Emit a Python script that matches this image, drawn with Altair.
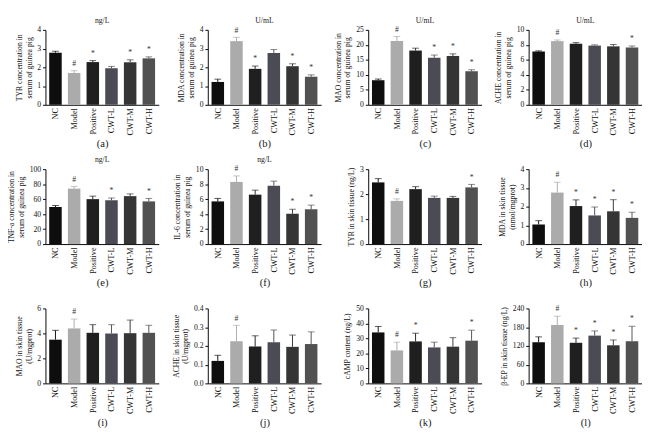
import altair as alt
import pandas as pd

groups = ["NC", "Model", "Positive", "CWT-L", "CWT-M", "CWT-H"]

# (a) TYR serum
a_vals = [2.78, 1.70, 2.28, 1.95, 2.27, 2.48]
a_errs = [0.08, 0.12, 0.08, 0.10, 0.13, 0.08]
a_sig = ["", "#", "*", "", "*", "*"]
# (b) MDA serum
b_vals = [1.22, 3.40, 1.92, 2.77, 2.06, 1.50]
b_errs = [0.15, 0.20, 0.15, 0.18, 0.13, 0.10]
b_sig = ["", "#", "*", "", "*", "*"]
# (c) MAO serum
c_vals = [8.2, 21.3, 18.1, 15.7, 16.3, 11.2]
c_errs = [0.4, 1.5, 0.8, 0.9, 0.7, 0.5]
c_sig = ["", "#", "", "*", "*", "*"]
# (d) ACHE serum
d_vals = [7.1, 8.5, 8.15, 7.9, 7.8, 7.65]
d_errs = [0.1, 0.15, 0.15, 0.1, 0.25, 0.2]
d_sig = ["", "#", "", "", "", "*"]
# (e) TNF-a serum
e_vals = [49.5, 74.0, 60.0, 58.5, 64.0, 57.0]
e_errs = [2.0, 3.0, 4.0, 3.0, 3.0, 4.0]
e_sig = ["", "#", "", "*", "", "*"]
# (f) IL-6 serum
f_vals = [5.7, 8.3, 6.6, 7.8, 4.05, 4.65]
f_errs = [0.4, 0.8, 0.6, 0.6, 0.6, 0.55]
f_sig = ["", "#", "", "", "*", "*"]
# (g) TYR skin
g_vals = [2.47, 1.73, 2.20, 1.85, 1.85, 2.27]
g_errs = [0.15, 0.08, 0.10, 0.07, 0.06, 0.12]
g_sig = ["", "#", "", "", "", "*"]
# (h) MDA skin
h_vals = [1.05, 2.75, 2.03, 1.53, 1.75, 1.40]
h_errs = [0.20, 0.55, 0.33, 0.45, 0.62, 0.30]
h_sig = ["", "#", "*", "*", "*", "*"]
# (i) MAO skin
i_vals = [3.5, 4.4, 4.05, 4.0, 4.02, 4.05]
i_errs = [0.75, 0.75, 0.65, 0.70, 1.05, 0.60]
i_sig = ["", "#", "", "", "", ""]
# (j) ACHE skin
j_vals = [0.12, 0.225, 0.197, 0.22, 0.195, 0.21]
j_errs = [0.03, 0.085, 0.057, 0.065, 0.063, 0.065]
j_sig = ["", "#", "", "", "", ""]
# (k) cAMP
k_vals = [34.0, 22.0, 28.0, 24.0, 24.5, 28.5]
k_errs = [4.0, 5.5, 5.5, 3.5, 6.0, 7.0]
k_sig = ["", "#", "*", "", "", "*"]
# (l) beta-EP
l_vals = [132, 187, 130, 153, 122, 135]
l_errs = [17, 28, 15, 15, 17, 48]
l_sig = ["", "#", "*", "*", "*", "*"]

BLACK, LIGHT, DARK, SLATE, G3, G4, G5 = "#0e0e0e", "#ababab", "#1f1f1f", "#4b4b56", "#353535", "#424242", "#515151"
pal_std = [BLACK, LIGHT, DARK, SLATE, G3, G5]

panels = [
    ("(a)", "ng/L", ["TYR concentration in", "serum of guinea pig"], [0, 4], [0, 1, 2, 3, 4], a_vals, a_errs, a_sig, pal_std),
    ("(b)", "U/mL", ["MDA concentration in", "serum of guinea pig"], [0, 4], [0, 1, 2, 3, 4], b_vals, b_errs, b_sig, pal_std),
    ("(c)", "U/mL", ["MAO concentration in", "serum of guinea pig"], [0, 25], [0, 5, 10, 15, 20, 25], c_vals, c_errs, c_sig, pal_std),
    ("(d)", "U/mL", ["ACHE concentration in", "serum of guinea pig"], [0, 10], [0, 2, 4, 6, 8, 10], d_vals, d_errs, d_sig, pal_std),
    ("(e)", "ng/L", ["TNF-a concentration in", "serum of guinea pig"], [0, 100], [0, 20, 40, 60, 80, 100], e_vals, e_errs, e_sig, pal_std),
    ("(f)", "ng/L", ["IL-6 concentration in", "serum of guinea pig"], [0, 10], [0, 2, 4, 6, 8, 10], f_vals, f_errs, f_sig, pal_std),
    ("(g)", "", "TYR in skin tissue (ng/L)", [0, 3], [0, 1, 2, 3], g_vals, g_errs, g_sig, pal_std),
    ("(h)", "", ["MDA in skin tissue", "(nmol/mgprot)"], [0, 4], [0, 1, 2, 3, 4], h_vals, h_errs, h_sig, [BLACK, LIGHT, SLATE, G5, G3, DARK]),
    ("(i)", "", ["MAO in skin tissue", "(U/mgprot)"], [0, 6], [0, 2, 4, 6], i_vals, i_errs, i_sig, [LIGHT, SLATE, G5, BLACK, DARK, G3]),
    ("(j)", "", ["ACHE in skin tissue", "(U/mgprot)"], [0, 0.4], [0, 0.1, 0.2, 0.3, 0.4], j_vals, j_errs, j_sig, [BLACK, LIGHT, DARK, SLATE, G3, G4]),
    ("(k)", "", "cAMP content (ng/L)", [0, 50], [0, 10, 20, 30, 40, 50], k_vals, k_errs, k_sig, [LIGHT, SLATE, G5, BLACK, DARK, G3]),
    ("(l)", "", "β-EP in skin tissue (ng/L)", [0, 240], [0, 60, 120, 180, 240], l_vals, l_errs, l_sig, [BLACK, DARK, LIGHT, SLATE, G4, G5]),
]

W, H = 118, 78
FONT = "Liberation Serif"


def make_panel(label, unit, ytitle, domain, ticks, vals, errs, sig, colors):
    df = pd.DataFrame({"group": groups, "value": vals, "err": errs, "sig": sig})
    df["top"] = df["value"] + df["err"]
    fmt = ".1f" if domain[1] < 1 else "d"
    x = alt.X("group:N", sort=groups, title=label,
              scale=alt.Scale(paddingInner=0.33, paddingOuter=0.2),
              axis=alt.Axis(labelAngle=-90, ticks=False, labelPadding=3, labelFontSize=8.5,
                            labelBaseline="middle", labelAlign="right",
                            titleFontSize=11, titlePadding=3, titleColor="#222222"))
    yscale = alt.Scale(domain=domain, nice=False, zero=True)
    yaxis = alt.Axis(values=ticks, format=fmt, tickSize=3, labelPadding=2, titlePadding=4,
                     titleLineHeight=10, labelOverlap=False, labelFlush=False)
    y = alt.Y("value:Q", title=ytitle, scale=yscale, axis=yaxis)
    ytop = alt.Y("top:Q", title=ytitle, scale=yscale, axis=yaxis)
    color = alt.Color("group:N", scale=alt.Scale(domain=groups, range=colors), legend=None)
    base = alt.Chart(df)
    bars = base.mark_bar().encode(x=x, y=y, color=color)
    rule = base.mark_rule(strokeWidth=1).encode(x=x, y=y, y2="top:Q", color=color)
    cap = base.mark_tick(thickness=1, size=7).encode(x=x, y=ytop, color=color)
    txt = base.mark_text(dy=-3, baseline="bottom", font=FONT, fontSize=8).encode(
        x=x, y=ytop, text="sig:N", color=alt.value("#333333"))
    return alt.layer(bars, rule, cap, txt).properties(
        width=W, height=H,
        title=alt.TitleParams(text=unit if unit else "U/mL", orient="top", anchor="middle",
                              frame="group", font=FONT, fontSize=8, fontWeight="normal",
                              color="#222222" if unit else "#ffffff", offset=1))


charts = [make_panel(*p) for p in panels]

chart = alt.concat(*charts, columns=4, spacing={"row": 8, "column": 14}).properties(
    padding={"left": 0, "top": 0, "right": 0, "bottom": 0},
    background="white",
).configure_view(stroke=None).configure_axis(
    grid=False, domainColor="black", tickColor="black", labelColor="#111111", titleColor="#111111",
    labelFont=FONT, titleFont=FONT, labelFontSize=8, titleFontSize=8, titleFontWeight="normal",
    domainWidth=1,
)

chart.save("out.html", embed_options={"renderer": "svg", "actions": False})
